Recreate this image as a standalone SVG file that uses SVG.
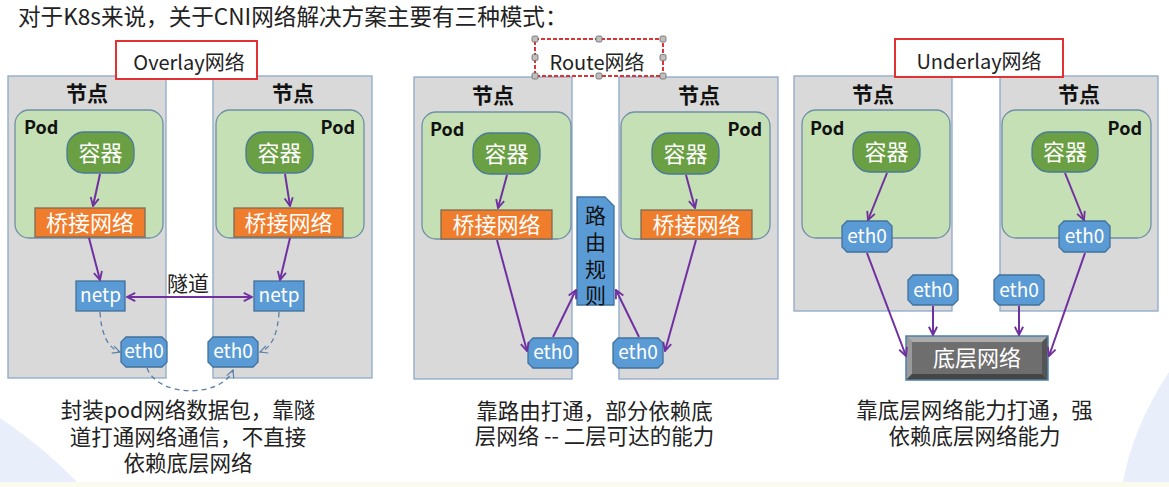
<svg xmlns="http://www.w3.org/2000/svg" width="1169" height="487" viewBox="0 0 1169 487">
<defs>
<style>
text{font-family:"Noto Sans CJK SC","Noto Sans",sans-serif;}
.node{fill:#d9d9d9;stroke:#8ea9c9;stroke-width:1.3;}
.pod{fill:#c5e0b4;stroke:#6f90a8;stroke-width:1.3;}
.ctr{fill:#6a9f43;stroke:#4b7a9a;stroke-width:1.3;}
.br{fill:#f07d2c;stroke:#7d6a55;stroke-width:1.3;}
.blue{fill:#5b9bd5;stroke:#41719c;stroke-width:1.3;}
.lbl{fill:#ffffff;stroke:#e03232;stroke-width:2;}
.t-node{font-size:21px;font-weight:bold;fill:#111;text-anchor:middle;}
.t-pod{font-size:18px;font-weight:bold;fill:#111;}
.t-w{fill:#fff;text-anchor:middle;}
.t-big{font-size:22px;}
.t-eth{font-size:19px;}
.t-lbl{font-size:20px;fill:#222;text-anchor:middle;}
.t-desc{font-size:21.5px;fill:#222;text-anchor:middle;}
.arr{fill:none;stroke:#7030a0;stroke-width:2;marker-end:url(#ap);}
.dash{fill:none;stroke:#5a80a8;stroke-width:1.3;stroke-dasharray:5 4;marker-end:url(#ad);}
.hdl{fill:#bfbfbf;stroke:#666;stroke-width:0.8;}
</style>
<marker id="ap" viewBox="0 0 12 12" refX="11" refY="6" markerWidth="11" markerHeight="11" orient="auto-start-reverse" markerUnits="userSpaceOnUse">
<path d="M2,1.5 L11,6 L2,10.5" fill="none" stroke="#7030a0" stroke-width="2"/>
</marker>
<marker id="ad" viewBox="0 0 12 12" refX="11" refY="6" markerWidth="10" markerHeight="10" orient="auto" markerUnits="userSpaceOnUse">
<path d="M2,1.5 L11,6 L2,10.5" fill="none" stroke="#5a80a8" stroke-width="1.4"/>
</marker>
</defs>

<rect width="1169" height="487" fill="#ffffff"/>
<path d="M0,418 Q45,448 82,487 L0,487 Z" fill="#e9eefb"/>
<path d="M1169,372 Q1132,428 1122,487 L1169,487 Z" fill="#e9eefb"/>
<rect x="0" y="482" width="1169" height="5" fill="#fbfaf0"/>

<text x="18" y="25" font-size="22.6" fill="#222">对于K8s来说，关于CNI网络解决方案主要有三种模式：</text>

<!-- ===== Overlay ===== -->
<g id="ov-node1"><rect class="node" x="8" y="76" width="158" height="302"/><text class="t-node" x="87" y="101">节点</text></g>
<g id="ov-node2"><rect class="node" x="213" y="76" width="159" height="302"/><text class="t-node" x="293" y="101">节点</text></g>
<g id="overlay-label"><rect class="lbl" x="116" y="41" width="141" height="38"/><text class="t-lbl" x="189" y="70">Overlay网络</text></g>
<g id="ov-pod1"><rect class="pod" x="15" y="110" width="148" height="128" rx="14"/><text class="t-pod" x="24" y="134">Pod</text></g>
<g id="ov-pod2"><rect class="pod" x="216" y="110" width="148" height="128" rx="14"/><text class="t-pod" x="355" y="134" text-anchor="end">Pod</text></g>
<g id="ov-ctr1"><rect class="ctr" x="67" y="132" width="67" height="41" rx="17"/><text class="t-w t-big" x="100.5" y="161">容器</text></g>
<g id="ov-ctr2"><rect class="ctr" x="246" y="132" width="67" height="41" rx="17"/><text class="t-w t-big" x="279.5" y="161">容器</text></g>
<g id="ov-br1"><rect class="br" x="35" y="208" width="110" height="29"/><text class="t-w t-big" x="90" y="231">桥接网络</text></g>
<g id="ov-br2"><rect class="br" x="234" y="208" width="109" height="29"/><text class="t-w t-big" x="288.5" y="231">桥接网络</text></g>
<g id="ov-netp1"><rect class="blue" x="76" y="281" width="49" height="30"/><text class="t-w t-eth" x="100.5" y="302">netp</text></g>
<g id="ov-netp2"><rect class="blue" x="254" y="281" width="50" height="30"/><text class="t-w t-eth" x="279" y="302">netp</text></g>
<g id="ov-eth1"><path class="blue" d="M126,337 H162 L167,342 V362 L162,367 H126 L121,362 V342 Z"/><text class="t-w t-eth" x="144" y="358">eth0</text></g>
<g id="ov-eth2"><path class="blue" d="M213,337 H253 L258,342 V362 L253,367 H213 L208,362 V342 Z"/><text class="t-w t-eth" x="233" y="358">eth0</text></g>
<text x="188" y="291" font-size="21" fill="#222" text-anchor="middle">隧道</text>
<text class="t-desc" x="188" y="418">封装pod网络数据包，靠隧</text>
<text class="t-desc" x="188" y="445">道打通网络通信，不直接</text>
<text class="t-desc" x="188" y="471">依赖底层网络</text>

<!-- ===== Route ===== -->
<g id="rt-node1"><rect class="node" x="414" y="77" width="158" height="302"/><text class="t-node" x="493" y="103">节点</text></g>
<g id="rt-node2"><rect class="node" x="619" y="77" width="159" height="302"/><text class="t-node" x="699" y="103">节点</text></g>
<g id="route-label">
<rect x="535" y="39" width="128" height="37" fill="#fff" stroke="#e03232" stroke-width="2" stroke-dasharray="4 2"/>
<text class="t-lbl" x="597" y="70">Route网络</text>
<rect class="hdl" x="532" y="36" width="6" height="6" rx="1.5"/><rect class="hdl" x="596" y="36" width="6" height="6" rx="1.5"/><rect class="hdl" x="660" y="36" width="6" height="6" rx="1.5"/>
<rect class="hdl" x="532" y="54.5" width="6" height="6" rx="1.5"/><rect class="hdl" x="660" y="54.5" width="6" height="6" rx="1.5"/>
<rect class="hdl" x="532" y="73" width="6" height="6" rx="1.5"/><rect class="hdl" x="596" y="73" width="6" height="6" rx="1.5"/><rect class="hdl" x="660" y="73" width="6" height="6" rx="1.5"/>
</g>
<g id="rt-pod1"><rect class="pod" x="422" y="112" width="149" height="127" rx="14"/><text class="t-pod" x="430" y="136">Pod</text></g>
<g id="rt-pod2"><rect class="pod" x="621" y="112" width="149" height="127" rx="14"/><text class="t-pod" x="762" y="136" text-anchor="end">Pod</text></g>
<g id="rt-ctr1"><rect class="ctr" x="473" y="133" width="67" height="41" rx="17"/><text class="t-w t-big" x="506.5" y="162">容器</text></g>
<g id="rt-ctr2"><rect class="ctr" x="652" y="133" width="67" height="41" rx="17"/><text class="t-w t-big" x="685.5" y="162">容器</text></g>
<g id="rt-br1"><rect class="br" x="441" y="210" width="111" height="29"/><text class="t-w t-big" x="496.5" y="233">桥接网络</text></g>
<g id="rt-br2"><rect class="br" x="641" y="210" width="111" height="29"/><text class="t-w t-big" x="696.5" y="233">桥接网络</text></g>
<g id="rt-rule"><path class="blue" d="M577,197 H605 L614,206 V305 H577 Z"/>
<text x="595.5" y="223" font-size="21" fill="#111" text-anchor="middle">路</text>
<text x="595.5" y="250" font-size="21" fill="#111" text-anchor="middle">由</text>
<text x="595.5" y="277" font-size="21" fill="#111" text-anchor="middle">规</text>
<text x="595.5" y="303" font-size="21" fill="#111" text-anchor="middle">则</text>
</g>
<g id="rt-eth1"><path class="blue" d="M533,338 H573 L578,343 V363 L573,368 H533 L528,363 V343 Z"/><text class="t-w t-eth" x="553" y="359">eth0</text></g>
<g id="rt-eth2"><path class="blue" d="M618,338 H658 L663,343 V363 L658,368 H618 L613,363 V343 Z"/><text class="t-w t-eth" x="638" y="359">eth0</text></g>
<text class="t-desc" x="594.5" y="419">靠路由打通，部分依赖底</text>
<text class="t-desc" x="594.5" y="444">层网络 -- 二层可达的能力</text>

<!-- ===== Underlay ===== -->
<g id="ul-node1"><rect class="node" x="794" y="76" width="158" height="235"/><text class="t-node" x="873" y="102">节点</text></g>
<g id="ul-node2"><rect class="node" x="1000" y="76" width="158" height="235"/><text class="t-node" x="1079" y="102">节点</text></g>
<g id="underlay-label"><rect class="lbl" x="895" y="39" width="168" height="38"/><text class="t-lbl" x="979" y="69">Underlay网络</text></g>
<g id="ul-pod1"><rect class="pod" x="802" y="110" width="148" height="128" rx="14"/><text class="t-pod" x="810" y="135">Pod</text></g>
<g id="ul-pod2"><rect class="pod" x="1002" y="110" width="149" height="128" rx="14"/><text class="t-pod" x="1142" y="135" text-anchor="end">Pod</text></g>
<g id="ul-ctr1"><rect class="ctr" x="853" y="132" width="67" height="40" rx="17"/><text class="t-w t-big" x="886.5" y="160">容器</text></g>
<g id="ul-ctr2"><rect class="ctr" x="1032" y="132" width="66" height="40" rx="17"/><text class="t-w t-big" x="1065" y="160">容器</text></g>
<g id="ul-peth1"><path class="blue" d="M847,221 H887 L892,226 V247 L887,252 H847 L842,247 V226 Z"/><text class="t-w t-eth" x="867" y="243">eth0</text></g>
<g id="ul-peth2"><path class="blue" d="M1064,221 H1105 L1110,226 V247 L1105,252 H1064 L1059,247 V226 Z"/><text class="t-w t-eth" x="1084.5" y="243">eth0</text></g>
<g id="ul-neth1"><path class="blue" d="M913,275 H953 L958,280 V300 L953,305 H913 L908,300 V280 Z"/><text class="t-w t-eth" x="933" y="297">eth0</text></g>
<g id="ul-neth2"><path class="blue" d="M999,275 H1039 L1044,280 V300 L1039,305 H999 L994,300 V280 Z"/><text class="t-w t-eth" x="1019" y="297">eth0</text></g>
<g id="ul-base">
<rect x="906" y="336" width="142" height="44" fill="#6e6e6e"/>
<path d="M906,336 H1048 L1042,342 H912 Z" fill="#ababab"/>
<path d="M906,336 L912,342 V374 L906,380 Z" fill="#9a9a9a"/>
<path d="M906,380 L912,374 H1042 L1048,380 Z" fill="#454545"/>
<path d="M1048,336 V380 L1042,374 V342 Z" fill="#555555"/>
<rect x="906" y="336" width="142" height="44" fill="none" stroke="#4f7fa8" stroke-width="1.5"/>
<text class="t-w t-big" x="977" y="366">底层网络</text>
</g>
<text class="t-desc" x="974.5" y="418">靠底层网络能力打通，强</text>
<text class="t-desc" x="974.5" y="444">依赖底层网络能力</text>

<!-- ===== Connectors ===== -->
<g id="connectors">
<path class="arr" d="M100,174 L93,206"/>
<path class="arr" d="M285,174 L290,206"/>
<path class="arr" d="M89,238 L100,280"/>
<path class="arr" d="M290,238 L280,280"/>
<path d="M127,297 L252,297" fill="none" stroke="#7030a0" stroke-width="2" marker-start="url(#ap)" marker-end="url(#ap)"/>
<path class="dash" d="M100,312 Q102,346 120,352"/>
<path class="dash" d="M279,312 Q277,346 260,352"/>
<path class="dash" d="M147,368 C158,398 222,398 233,370"/>

<path class="arr" d="M507,175 L498,208"/>
<path class="arr" d="M686,175 L695,208"/>
<path class="arr" d="M497,240 L527,351"/>
<path class="arr" d="M553,337 L576,290"/>
<path class="arr" d="M639,337 L616,290"/>
<path class="arr" d="M696,240 L665,351"/>

<path class="arr" d="M887,173 L868,220"/>
<path class="arr" d="M1065,173 L1084,220"/>
<path class="arr" d="M867,253 L906,356"/>
<path class="arr" d="M1085,253 L1049,356"/>
<path class="arr" d="M933,306 L933,335"/>
<path class="arr" d="M1019,306 L1019,335"/>
</g>
</svg>
